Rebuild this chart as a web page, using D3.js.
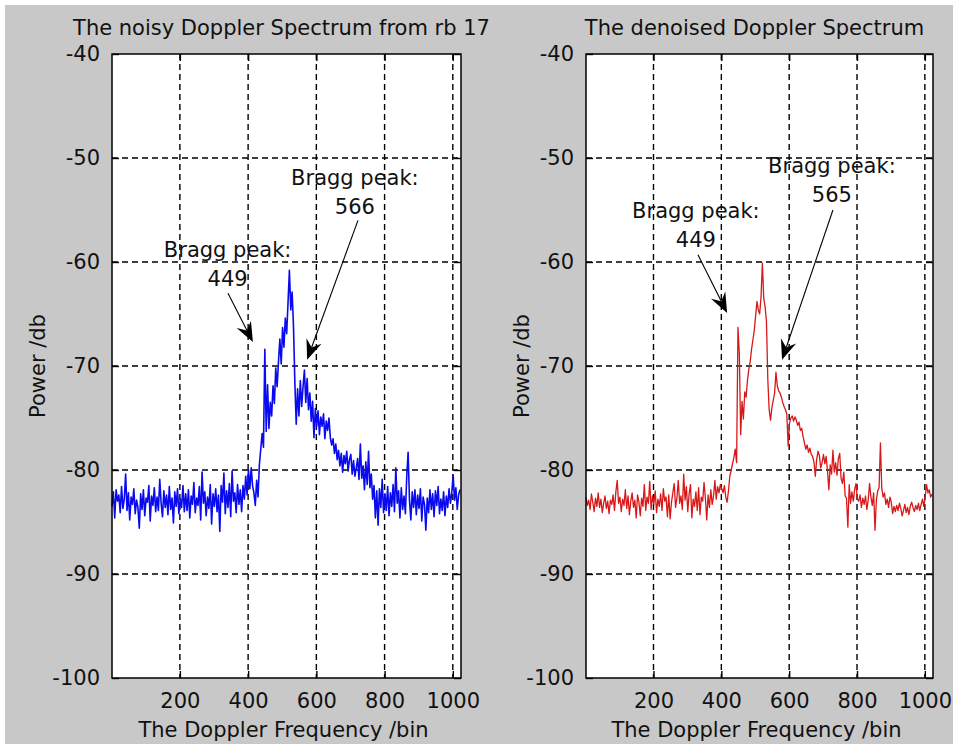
<!DOCTYPE html>
<html>
<head>
<meta charset="utf-8">
<script src="https://cdn.jsdelivr.net/npm/d3@7/dist/d3.min.js"></script>
<style>
  html, body { margin: 0; padding: 0; background: #fff; }
  svg { display: block; }
  text { font-family: "DejaVu Sans", Verdana, sans-serif; font-size: 21px; fill: #111; }
</style>
</head>
<body>
<div id="chart"></div>
<script>
// power spectra in dB, one value every 4th Doppler bin starting at bin 1
const binStart = 1, binStep = 4;

const noisyPower = [
  -83.5,-82.1,-84.6,-81.9,-83.0,-82.4,-84.1,-81.6,-83.7,-82.8,
  -80.4,-83.9,-82.2,-84.8,-82.6,-83.3,-81.8,-84.2,-82.9,-83.6,
  -85.6,-82.3,-83.8,-81.9,-84.4,-82.7,-83.1,-81.5,-84.9,-82.5,
  -83.4,-81.7,-84.0,-82.6,-83.9,-80.9,-83.2,-84.5,-82.0,-83.6,
  -82.4,-84.3,-81.6,-83.8,-82.7,-85.1,-82.1,-83.5,-81.8,-84.2,
  -82.8,-83.6,-81.5,-84.0,-82.3,-83.9,-81.9,-84.6,-82.5,-83.3,
  -81.2,-84.1,-82.7,-83.4,-81.6,-84.8,-80.2,-83.2,-82.1,-84.4,
  -82.6,-83.7,-81.4,-85.2,-82.3,-83.5,-81.8,-84.0,-82.4,-85.9,
  -81.5,-83.1,-80.3,-84.2,-82.0,-83.6,-81.3,-84.5,-80.1,-83.0,
  -82.2,-84.1,-81.4,-83.3,-81.9,-84.0,-81.5,-82.8,-80.6,-82.4,
  // bins 401..445
  -80.0,-81.8,-79.8,-81.5,-82.2,-83.4,-81.0,-82.6,-79.5,-78.0,-76.5,-77.8,
  // bins 449..597, main Bragg region
  -68.4,-76.3,-71.8,-76.0,-73.5,-74.8,-71.9,-73.6,-70.2,-72.0,
  -69.6,-67.4,-69.8,-66.3,-68.2,-65.4,-66.9,-63.9,-60.8,-64.6,
  -62.9,-66.2,-71.6,-75.6,-72.2,-74.8,-71.4,-73.9,-72.0,-70.4,
  -73.5,-71.2,-74.2,-72.6,-75.3,-73.4,-76.9,-74.1,
  // bins 601..645
  -75.8,-74.3,-76.6,-74.9,-75.8,-74.6,-77.0,-75.3,-76.2,-75.0,-76.9,-77.6,
  // bins 649..725
  -77.0,-78.4,-77.5,-79.0,-78.1,-79.6,-78.4,-80.2,-78.6,-79.4,
  -78.2,-80.1,-79.0,-78.5,-80.4,-79.1,-80.6,-79.8,-78.9,-80.9,
  // bins 729..765
  -77.5,-80.8,-79.6,-81.9,-79.2,-81.4,-78.2,-81.7,-80.4,-82.8,
  // bins 769..801
  -81.5,-84.6,-82.0,-85.3,-81.8,-83.6,-80.9,-84.1,-82.3,
  // bins 805..1021
  -83.9,-81.6,-84.4,-82.2,-83.5,-81.4,-84.0,-79.8,-83.2,-82.0,
  -84.6,-81.7,-83.8,-82.5,-84.2,-80.6,-78.3,-82.9,-84.8,-82.1,
  -83.6,-81.9,-84.3,-82.4,-83.7,-81.8,-84.9,-82.6,-83.3,-85.8,
  -82.7,-84.1,-81.9,-83.8,-82.3,-84.5,-82.0,-83.4,-81.6,-84.2,
  -82.8,-83.9,-82.1,-84.4,-82.5,-83.6,-81.8,-83.2,-82.2,-80.5,
  -82.9,-81.7,-83.8,-82.4,-81.9
];

const denoisedPower = [
  -82.6,-83.4,-82.9,-83.8,-82.3,-83.1,-84.0,-82.7,-83.5,-82.2,
  -83.6,-82.8,-84.1,-83.2,-82.5,-83.7,-83.0,-84.2,-82.9,-83.3,
  -82.4,-83.9,-82.1,-81.0,-83.2,-82.6,-84.0,-82.8,-83.4,-81.9,
  -83.7,-82.5,-84.3,-83.0,-82.2,-83.6,-82.9,-84.6,-82.4,-83.1,
  -84.4,-82.7,-83.5,-81.4,-83.9,-82.6,-83.2,-81.1,-83.8,-82.5,
  -83.3,-82.0,-84.1,-82.8,-83.5,-82.3,-83.9,-81.8,-83.0,-82.6,
  -84.5,-82.4,-84.7,-83.1,-82.2,-81.3,-83.6,-82.7,-81.0,-83.2,
  -82.5,-83.8,-80.4,-82.9,-81.6,-84.0,-82.3,-81.4,-84.6,-82.8,
  -83.5,-82.1,-83.9,-81.7,-84.3,-82.6,-83.0,-81.2,-82.7,-84.8,
  -82.4,-83.6,-81.9,-83.3,-82.5,-81.0,-82.8,-81.6,-82.2,-81.4,
  // bins 401..445
  -81.8,-82.2,-81.5,-82.6,-83.1,-82.0,-80.6,-80.0,-79.4,-78.8,-78.0,-79.3,
  // bins 449..597
  -66.3,-68.8,-76.6,-73.4,-75.1,-72.5,-73.0,-71.4,-70.3,-69.6,
  -68.4,-67.5,-66.6,-65.2,-63.8,-64.6,-65.0,-63.4,-60.1,-63.5,
  -64.3,-65.7,-71.3,-74.2,-75.2,-74.0,-73.3,-72.6,-70.6,-71.9,
  -72.4,-72.6,-73.0,-73.5,-73.9,-74.2,-74.6,-77.7,
  // bins 601..645
  -75.5,-75.0,-74.8,-75.3,-74.9,-75.2,-75.7,-75.4,-76.2,-76.0,-76.8,-77.4,
  // bins 649..725
  -78.0,-77.6,-78.3,-77.9,-78.5,-78.7,-79.2,-80.6,-79.0,-78.2,
  -78.6,-79.8,-79.3,-78.5,-79.4,-78.7,-80.1,-81.9,-79.5,-80.4,
  // bins 729..765
  -78.1,-80.2,-79.3,-80.5,-78.9,-78.4,-80.8,-81.3,-80.2,-82.5,
  // bins 769..801
  -82.7,-85.5,-81.4,-83.2,-82.1,-83.0,-81.9,-81.3,-82.8,
  // bins 805..1021
  -83.0,-82.4,-83.6,-82.7,-83.3,-82.5,-83.8,-82.9,-81.3,-82.6,
  -83.4,-82.2,-85.8,-82.9,-82.0,-81.7,-77.4,-81.8,-82.6,-82.2,
  -83.3,-82.8,-83.6,-82.6,-83.1,-84.2,-83.5,-84.0,-83.4,-83.9,
  -83.2,-83.7,-84.4,-83.9,-83.3,-84.1,-83.6,-84.3,-83.5,-83.1,
  -83.6,-84.0,-83.4,-83.8,-83.2,-83.9,-83.3,-82.8,-83.5,-82.6,
  -81.4,-82.2,-81.9,-82.6,-82.3
];

const binDomain = [1, 1024];
const powerDomain = [-100, -40];
const xTicks = [200, 400, 600, 800, 1000];
const yTicks = [-100, -90, -80, -70, -60, -50, -40];

// Bragg peak bins marked on each spectrum
const noisyPeaks = [449, 566];
const denoisedPeaks = [449, 565];

const width = 953, height = 744;

const svg = d3.select('#chart').append('svg')
  .attr('width', width).attr('height', height);

// figure background
svg.append('rect').attr('x', 5).attr('y', 5)
  .attr('width', width - 5).attr('height', height - 5)
  .attr('fill', '#c8c8c8');

const panels = [
  {
    title: 'The noisy Doppler Spectrum from rb 17',
    values: noisyPower, color: '#0a0aee', lw: 1.6,
    left: 112, top: 54, w: 349, h: 624, ylabelX: 45,
    peaks: noisyPeaks,
    // label anchor (bin, dB) and arrow tail/tip in data units
    notes: [
      { at: [340, -59.5], tail: [341, -63.0], tip: [414, -67.7] },
      { at: [713, -52.6], tail: [722, -56.0], tip: [573, -69.4] }
    ]
  },
  {
    title: 'The denoised Doppler Spectrum',
    values: denoisedPower, color: '#d81818', lw: 1.3,
    left: 586, top: 54, w: 347, h: 624, ylabelX: 529,
    peaks: denoisedPeaks,
    notes: [
      { at: [325, -55.8], tail: [331, -59.3], tip: [417, -64.9] },
      { at: [726, -51.4], tail: [729, -55.0], tip: [579, -69.4] }
    ]
  }
];

panels.forEach(function(p) {
  var x = d3.scaleLinear().domain(binDomain).range([p.left, p.left + p.w]);
  var y = d3.scaleLinear().domain(powerDomain).range([p.top + p.h, p.top]);
  var g = svg.append('g');

  g.append('rect').attr('x', p.left).attr('y', p.top)
    .attr('width', p.w).attr('height', p.h).attr('fill', '#fff');

  // dashed grid
  g.selectAll('line.vgrid').data(xTicks).enter().append('line')
    .attr('class', 'vgrid')
    .attr('x1', function(d) { return x(d); }).attr('x2', function(d) { return x(d); })
    .attr('y1', p.top).attr('y2', p.top + p.h);
  g.selectAll('line.hgrid').data(yTicks.slice(1, -1)).enter().append('line')
    .attr('class', 'hgrid')
    .attr('y1', function(d) { return y(d); }).attr('y2', function(d) { return y(d); })
    .attr('x1', p.left).attr('x2', p.left + p.w);
  g.selectAll('line.vgrid, line.hgrid')
    .attr('stroke', '#000').attr('stroke-width', 1.4)
    .attr('stroke-dasharray', '6,4');

  // spectrum
  var line = d3.line()
    .x(function(d, i) { return x(binStart + i * binStep); })
    .y(function(d) { return y(d); });
  g.append('path').datum(p.values)
    .attr('d', line).attr('fill', 'none')
    .attr('stroke', p.color).attr('stroke-width', p.lw)
    .attr('stroke-linejoin', 'round');

  // inward ticks on all four sides
  var tk = 7;
  var fmt = function(d) { return String(d); };
  g.append('g').attr('transform', 'translate(0,' + (p.top + p.h) + ')')
    .call(d3.axisBottom(x).tickValues(xTicks).tickSize(-tk).tickSizeOuter(0).tickPadding(15).tickFormat(fmt));
  g.append('g').attr('transform', 'translate(0,' + p.top + ')')
    .call(d3.axisTop(x).tickValues(xTicks).tickSize(-tk).tickSizeOuter(0).tickFormat(''));
  g.append('g').attr('transform', 'translate(' + p.left + ',0)')
    .call(d3.axisLeft(y).tickValues(yTicks).tickSize(-tk).tickSizeOuter(0).tickPadding(12).tickFormat(fmt));
  g.append('g').attr('transform', 'translate(' + (p.left + p.w) + ',0)')
    .call(d3.axisRight(y).tickValues(yTicks).tickSize(-tk).tickSizeOuter(0).tickFormat(''));
  g.selectAll('.domain').remove();
  g.selectAll('.tick line').attr('stroke', '#000').attr('stroke-width', 1.4);
  g.selectAll('.tick text').attr('fill', '#111');
  g.selectAll('g').attr('font-size', null).attr('font-family', null);

  g.append('rect').attr('x', p.left).attr('y', p.top)
    .attr('width', p.w).attr('height', p.h)
    .attr('fill', 'none').attr('stroke', '#000').attr('stroke-width', 1.5);

  // titles and labels
  g.append('text').attr('x', p.left + p.w / 2 - 5).attr('y', 35)
    .attr('text-anchor', 'middle').text(p.title);
  g.append('text').attr('x', p.left + p.w / 2 - 3).attr('y', 737)
    .attr('text-anchor', 'middle').text('The Doppler Frequency /bin');
  g.append('text')
    .attr('transform', 'translate(' + p.ylabelX + ',' + (p.top + p.h / 2) + ') rotate(-90)')
    .attr('text-anchor', 'middle').text('Power /db');

  // Bragg peak annotations
  p.notes.forEach(function(n, k) {
    var t = g.append('text').attr('text-anchor', 'middle');
    t.append('tspan').attr('x', x(n.at[0])).attr('y', y(n.at[1])).text('Bragg peak:');
    t.append('tspan').attr('x', x(n.at[0])).attr('dy', 29).text(String(p.peaks[k]));

    var x0 = x(n.tail[0]), y0 = y(n.tail[1]);
    var x1 = x(n.tip[0]), y1 = y(n.tip[1]);
    var ang = Math.atan2(y1 - y0, x1 - x0);
    var L = 20, W = 8, N = 13;
    var ux = Math.cos(ang), uy = Math.sin(ang);
    var bx = x1 - ux * N, by = y1 - uy * N;
    g.append('line').attr('x1', x0).attr('y1', y0).attr('x2', bx).attr('y2', by)
      .attr('stroke', '#000').attr('stroke-width', 1.1);
    var head = [
      [x1, y1],
      [x1 - ux * L - uy * W, y1 - uy * L + ux * W],
      [bx, by],
      [x1 - ux * L + uy * W, y1 - uy * L - ux * W]
    ];
    g.append('path').attr('d', 'M' + head.join('L') + 'Z').attr('fill', '#000');
  });
});
</script>
</body>
</html>
